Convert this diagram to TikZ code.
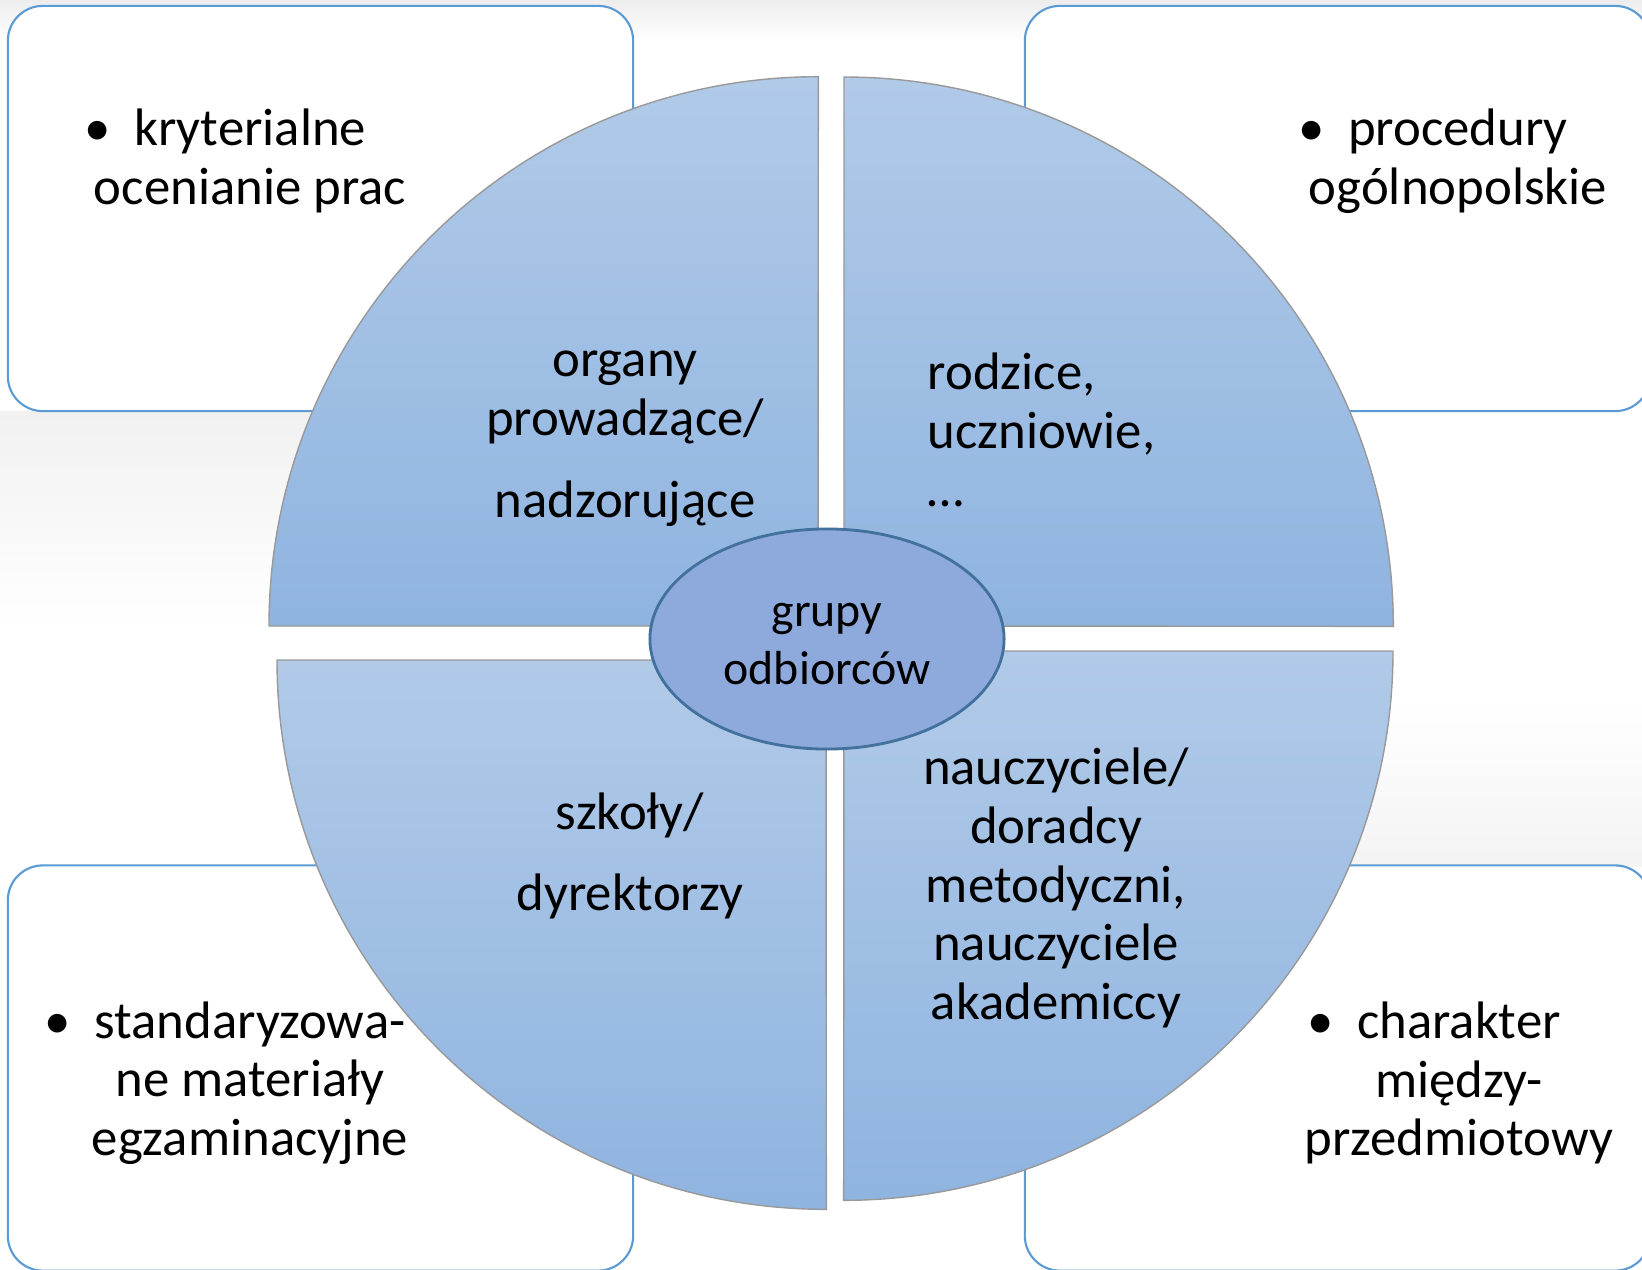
\documentclass[tikz,border=0pt]{standalone}
\usepackage{fontspec}
\setmainfont{Carlito}
\usetikzlibrary{shapes.geometric, positioning}

\definecolor{boxline}{HTML}{5B9BD5}
\definecolor{quadtop}{HTML}{B1CAE8}
\definecolor{quadbot}{HTML}{8FB4E0}
\definecolor{hubfill}{HTML}{8EA9DB}
\definecolor{hubline}{HTML}{41719C}
\newcommand{\itembul}{\llap{\textbullet\hspace{0.45em}}}

\begin{document}
\begin{tikzpicture}[x=0.01cm, y=-0.01cm,
    every node/.style={font=\fontsize{15}{16.7}\selectfont, align=center, inner sep=0pt},
    infobox/.style={draw=boxline, line width=0.6pt, fill=white, rounded corners=0.35cm,
        minimum width=6.25cm, minimum height=4.05cm},
    quadrant/.style={draw=gray!80, line width=0.4pt, top color=quadtop, bottom color=quadbot},
    hub/.style={ellipse, draw=hubline, line width=0.8pt, fill=hubfill,
        minimum width=3.54cm, minimum height=2.2cm, font=\fontsize{13.6}{16.6}\selectfont}]

    % background
    \fill[white] (0,0) rectangle (1642,1269);
    \useasboundingbox (0,0) rectangle (1642,1269);
    \shade[top color=gray!14, bottom color=white] (0,0) rectangle (1642,40);
    \shade[top color=gray!11, bottom color=white] (0,411) rectangle (430,626);
    \shade[top color=white, bottom color=gray!9] (1330,700) rectangle (1642,866);

    % corner boxes
    \node[infobox] (boxTL) at (320.5,208.5) {};
    \node[infobox] (boxTR) at (1337.5,208.5) {};
    \node[infobox] (boxBL) at (320.5,1068) {};
    \node[infobox] (boxBR) at (1337.5,1068) {};

    % four quarters of the circle
    \draw[quadrant] (818,626) -- (269,626) arc[start angle=180, end angle=90, radius=5.49cm] -- cycle;
    \draw[quadrant] (844,626) -- (844,77) arc[start angle=90, end angle=0, radius=5.49cm] -- cycle;
    \draw[quadrant] (826,660) -- (277,660) arc[start angle=180, end angle=270, radius=5.49cm] -- cycle;
    \draw[quadrant] (844,651) -- (1393,651) arc[start angle=0, end angle=-90, radius=5.49cm] -- cycle;

    \node[hub] (hub) at (827,639) {\rule{0pt}{9.6pt}grupy\\odbiorców};

    % texts in the boxes
    \node (critText) at (250,161) {\itembul kryterialne\\ocenianie prac};
    \node (procText) at (1458,161) {\itembul procedury\\ogólnopolskie};
    \node (stdText) at (250,1083) {\itembul standaryzowa-\\ne materiały\\egzaminacyjne};
    \node (crossText) at (1459,1083) {\itembul charakter\\między-\\przedmiotowy};

    % texts in the quarters
    \node (organText) at (625,439) {organy\\prowadzące/\\[6.6pt]nadzorujące};
    \node[align=left, anchor=west] (parentText) at (927,430) {rodzice,\\uczniowie,\\…};
    \node (schoolText) at (630,856) {szkoły/\\[6.2pt]dyrektorzy};
    \node (teachText) at (1056,888) {nauczyciele/\\doradcy\\metodyczni,\\nauczyciele\\akademiccy};
\end{tikzpicture}
\end{document}
